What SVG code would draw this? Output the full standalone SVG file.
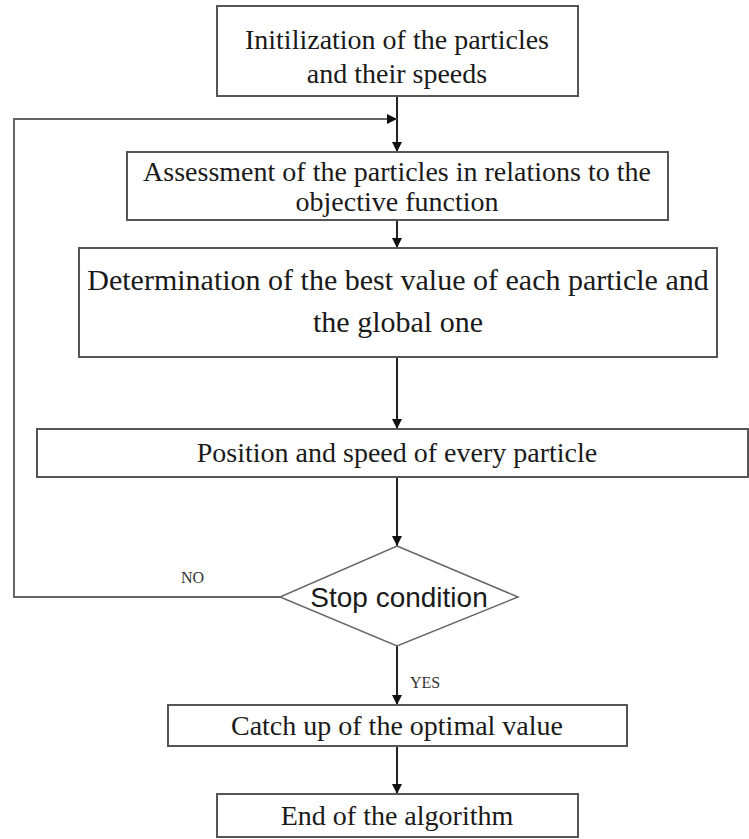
<svg xmlns="http://www.w3.org/2000/svg" width="749" height="839" viewBox="0 0 749 839">
<style>
.box{fill:#fff;stroke:#555;stroke-width:2}
.t{font-family:"Liberation Serif","Times New Roman",serif;font-size:28px;fill:#1a1a1a;text-anchor:middle}
.s{font-family:"Liberation Serif","Times New Roman",serif;font-size:16px;fill:#333}
.a{font-family:"Liberation Sans",Arial,sans-serif;font-size:28px;fill:#1a1a1a;text-anchor:middle}
.c{fill:none;stroke:#222;stroke-width:2}
.l{fill:none;stroke:#666;stroke-width:2}
</style>
<defs>
<marker id="ah" viewBox="0 0 10 10" refX="10" refY="5" markerWidth="5" markerHeight="5" orient="auto" markerUnits="strokeWidth">
<path d="M0,0 L10,5 L0,10 z" fill="#111"/>
</marker>
</defs>
<rect width="749" height="839" fill="#fff"/>
<g id="connectors">
<line class="c" x1="397" y1="96" x2="397" y2="152" marker-end="url(#ah)"/>
<polyline class="l" points="280,597 14,597 14,119 397,119" marker-end="url(#ah)"/>
<line class="c" x1="397" y1="220" x2="397" y2="248" marker-end="url(#ah)"/>
<line class="c" x1="397" y1="357" x2="397" y2="429" marker-end="url(#ah)"/>
<line class="c" x1="397" y1="477" x2="397" y2="546" marker-end="url(#ah)"/>
<line class="c" x1="397" y1="646" x2="397" y2="705" marker-end="url(#ah)"/>
<line class="c" x1="397" y1="746" x2="397" y2="794" marker-end="url(#ah)"/>
<text class="s" x="181" y="583">NO</text>
<text class="s" x="410" y="688">YES</text>
</g>
<g id="n1">
<rect class="box" x="217" y="6" width="361" height="90"/>
<text class="t" x="397" y="49">Initilization of the particles</text>
<text class="t" x="397" y="83">and their speeds</text>
</g>
<g id="n2">
<rect class="box" x="127" y="152" width="541" height="68"/>
<text class="t" x="397" y="181">Assessment of the particles in relations to the</text>
<text class="t" x="397" y="211">objective function</text>
</g>
<g id="n3">
<rect class="box" x="79" y="248" width="638" height="109"/>
<text class="t" x="398" y="290" style="font-size:30px">Determination of the best value of each particle and</text>
<text class="t" x="398" y="332" style="font-size:30px">the global one</text>
</g>
<g id="n4">
<rect class="box" x="37" y="429" width="711" height="48"/>
<text class="t" x="397" y="462">Position and speed of every particle</text>
</g>
<g id="n5">
<polygon points="397,546 518,597 397,646 280,597" fill="#fff" stroke="#666" stroke-width="1.5"/>
<text class="a" x="399" y="607">Stop condition</text>
</g>
<g id="n6">
<rect class="box" x="168" y="705" width="459" height="41"/>
<text class="t" x="397" y="735">Catch up of the optimal value</text>
</g>
<g id="n7">
<rect class="box" x="217" y="794" width="361" height="43"/>
<text class="t" x="397" y="825">End of the algorithm</text>
</g>
</svg>
